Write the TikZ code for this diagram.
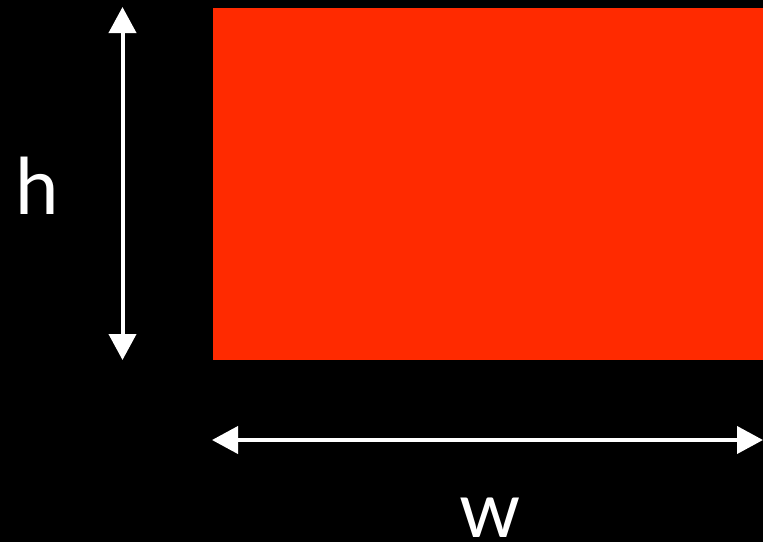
\documentclass[tikz,border=0pt]{standalone}
\usepackage{fontspec}
\setmainfont{Lato}
\usetikzlibrary{arrows.meta}
\definecolor{boxred}{RGB}{255,42,0}
\tikzset{
  dimarrow/.style={white, line width=4pt, {Triangle[length=26pt,width=27pt]}-{Triangle[length=26pt,width=27pt]}},
  dimlabel/.style={text=white, font=\fontsize{78}{90}\selectfont, inner sep=0pt, anchor=base}
}
\begin{document}
\begin{tikzpicture}[x=1pt,y=-1pt]
  \fill[black] (0,0) rectangle (763,542);
  \useasboundingbox (0,0) rectangle (763,542);
  \node[fill=boxred, minimum width=550pt, minimum height=352pt, inner sep=0pt, anchor=north west] (box) at (213,8) {};
  \coordinate (htop) at (122.5,7);
  \coordinate (hbot) at (122.5,360);
  \coordinate (wleft) at (212,440);
  \coordinate (wright) at (763,440);
  \draw[dimarrow] (htop) -- (hbot);
  \draw[dimarrow] (wleft) -- (wright);
  \node[dimlabel] (h) at (37,214) {h};
  \node[dimlabel] (w) at (490,537) {w};
\end{tikzpicture}
\end{document}
